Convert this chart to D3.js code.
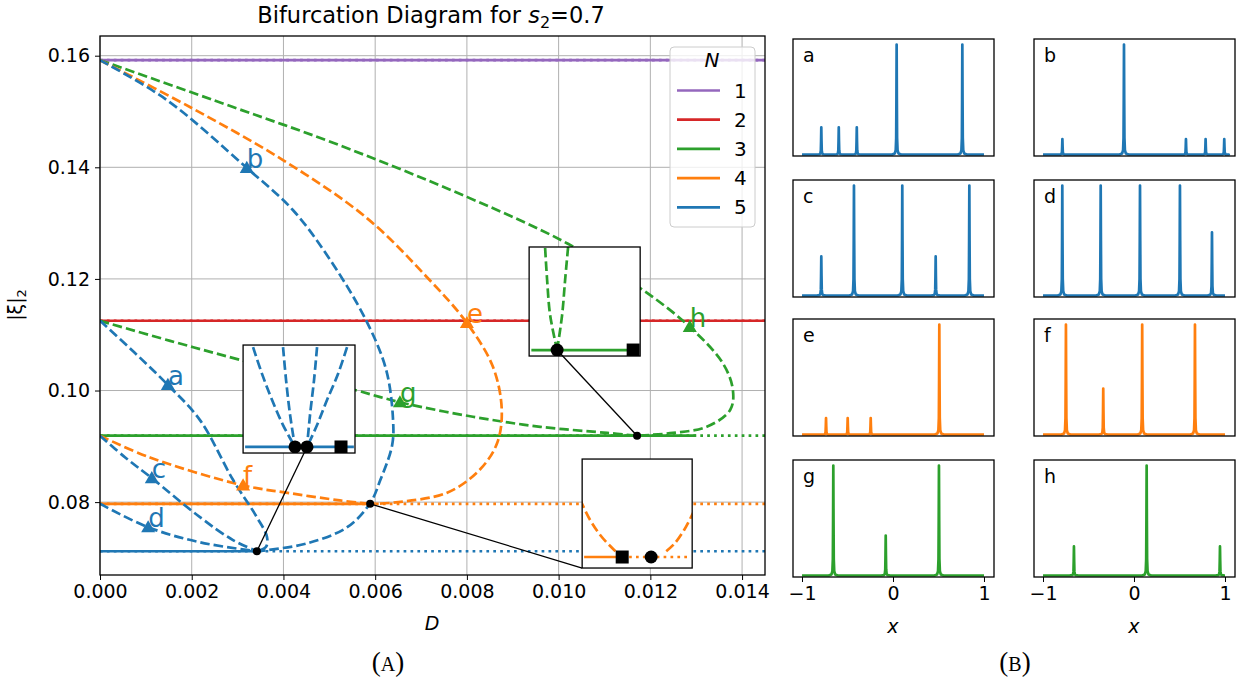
<!DOCTYPE html>
<html>
<head>
<meta charset="utf-8">
<script src="https://cdn.jsdelivr.net/npm/d3@7"></script>
<style>
  body { margin: 0; background: #fff; }
</style>
</head>
<body>
<div id="chart"></div>
<script>
// ---- data ----
var levelN = [1, 2, 3, 4, 5];
var levelVal = [0.1592, 0.1125, 0.0919, 0.0797, 0.0712];
var stableEnd = [0.0145, 0.0145, 0.0130, 0.00589, 0.00342]; // solid up to here, dotted after
var xTicks = [0, 0.002, 0.004, 0.006, 0.008, 0.010, 0.012, 0.014];
var yTicks = [0.08, 0.10, 0.12, 0.14, 0.16];

// dashed branches [D, |xi|]
var branchG1 = [[0, 0.1592], [0.0029, 0.1508], [0.00508, 0.1444], [0.0080, 0.1347], [0.01018, 0.1264], [0.01184, 0.1180], [0.01286, 0.1114], [0.01358, 0.1049], [0.0138, 0.1001], [0.01374, 0.0965], [0.01323, 0.0935], [0.01249, 0.0924], [0.01171, 0.0919]];
var branchG2 = [[0, 0.1125], [0.00153, 0.1089], [0.00305, 0.1055], [0.00556, 0.1001], [0.00654, 0.0979], [0.00813, 0.0953], [0.0096, 0.0935], [0.01106, 0.0924], [0.01171, 0.0919]];
var branchO1 = [[0, 0.1592], [0.00196, 0.1508], [0.00399, 0.1413], [0.00582, 0.1309], [0.00713, 0.1203], [0.0080, 0.1121], [0.00857, 0.1042], [0.00876, 0.0965], [0.00866, 0.0906], [0.00828, 0.0858], [0.00757, 0.0817], [0.00639, 0.0799], [0.00589, 0.0797]];
var branchO2 = [[0, 0.0919], [0.00109, 0.0880], [0.00312, 0.0830], [0.00414, 0.0816], [0.00523, 0.0803], [0.00589, 0.0797]];
var branchB1 = [[0, 0.1592], [0.00145, 0.1521], [0.0032, 0.1399], [0.00421, 0.1323], [0.00502, 0.1234], [0.0058, 0.1126], [0.00624, 0.1037], [0.00639, 0.0947], [0.00637, 0.0902], [0.00611, 0.0839], [0.00589, 0.0798], [0.00539, 0.0755], [0.00451, 0.0726], [0.00364, 0.0714], [0.00342, 0.0712]];
var branchB2 = [[0, 0.1125], [0.00074, 0.1069], [0.00148, 0.1010], [0.00218, 0.0947], [0.0029, 0.0840], [0.00342, 0.0773], [0.00364, 0.0738], [0.00362, 0.0720], [0.00342, 0.0712]];
var branchB3 = [[0, 0.0919], [0.00055, 0.0880], [0.00113, 0.0843], [0.00218, 0.0773], [0.0029, 0.0732], [0.00342, 0.0712]];
var branchB4 = [[0, 0.0797], [0.00105, 0.0755], [0.00218, 0.0728], [0.00342, 0.0712]];
var branchList = [
  { n: 3, pts: branchG1 }, { n: 3, pts: branchG2 },
  { n: 4, pts: branchO1 }, { n: 4, pts: branchO2 },
  { n: 5, pts: branchB1 }, { n: 5, pts: branchB2 }, { n: 5, pts: branchB3 }, { n: 5, pts: branchB4 }
];

// labelled solutions
var markLabel = ["a", "b", "c", "d", "e", "f", "g", "h"];
var markN = [5, 5, 5, 5, 4, 4, 3, 3];
var markD = [0.00148, 0.0032, 0.00113, 0.00105, 0.0080, 0.00312, 0.00654, 0.01286];
var markVal = [0.1010, 0.1399, 0.0843, 0.0755, 0.1121, 0.0830, 0.0979, 0.1114];

// bifurcation points
var bifD = [0.00342, 0.00589, 0.01171];
var bifVal = [0.0712, 0.0797, 0.0919];

// insets (box in main-axes data [D0, D1, top, bottom], contents in unit coordinates)
var insets = [
  { n: 5, box: [0.00312, 0.00556, 0.10815, 0.0888],
    curves: [
      [[0.089, 0.981], [0.170, 0.731], [0.259, 0.491], [0.357, 0.259], [0.464, 0.056]],
      [[0.357, 0.981], [0.384, 0.676], [0.420, 0.352], [0.464, 0.056]],
      [[0.661, 0.981], [0.634, 0.676], [0.598, 0.352], [0.571, 0.056]],
      [[0.929, 0.981], [0.848, 0.731], [0.750, 0.491], [0.661, 0.259], [0.571, 0.056]]
    ],
    solid: [0.018, 0.99], dotted: null, base: 0.056,
    dots: [0.464, 0.571], squares: [0.875], link: [0.571, 0.056], bif: 0 },
  { n: 3, box: [0.009357, 0.011778, 0.12572, 0.10618],
    curves: [
      [[0.144, 0.991], [0.162, 0.697], [0.189, 0.376], [0.252, 0.055]],
      [[0.351, 1.0], [0.324, 0.697], [0.297, 0.376], [0.252, 0.055]]
    ],
    solid: [0.02, 0.96], dotted: null, base: 0.055,
    dots: [0.252], squares: [0.937], link: [0.252, 0.055], bif: 2 },
  { n: 4, box: [0.010513, 0.012912, 0.08772, 0.06819],
    curves: [
      [[-0.02, 0.63], [0.073, 0.44], [0.164, 0.303], [0.273, 0.183], [0.364, 0.101]],
      [[1.02, 0.53], [0.927, 0.349], [0.836, 0.220], [0.745, 0.138]]
    ],
    solid: [0.018, 0.364], dotted: [0.364, 0.98], base: 0.101,
    dots: [0.627], squares: [0.364], link: [0, 0], bif: 1 }
];

// profiles for panels a..h : peak positions and relative heights
var panelLabel = ["a", "b", "c", "d", "e", "f", "g", "h"];
var panelN = [5, 5, 5, 5, 4, 4, 3, 3];
var peakX = [
  [-0.788, -0.596, -0.398, 0.040, 0.762],
  [-0.787, -0.110, 0.571, 0.787, 0.992],
  [-0.788, -0.429, 0.102, 0.469, 0.839],
  [-0.788, -0.366, 0.066, 0.505, 0.857],
  [-0.736, -0.498, -0.245, 0.509],
  [-0.748, -0.338, 0.090, 0.670],
  [-0.656, -0.080, 0.505],
  [-0.660, 0.139, 0.945]
];
var peakH = [
  [0.247, 0.247, 0.247, 1, 1],
  [0.14, 1, 0.14, 0.14, 0.14],
  [0.355, 1, 1, 0.355, 1],
  [1, 1, 1, 1, 0.575],
  [0.15, 0.15, 0.15, 1],
  [1, 0.418, 1, 1],
  [1, 0.363, 1],
  [0.264, 1, 0.264]
];
// single peak outline, [dx, fraction of height]
var peakShape = [[-0.05, 0], [-0.02, 0.01], [-0.01, 0.04], [-0.005, 0.15], [-0.0025, 0.5], [0, 1], [0.0025, 0.5], [0.005, 0.15], [0.01, 0.04], [0.02, 0.01], [0.05, 0]];
var profileTicks = [-1, 0, 1];

var color = d3.scaleOrdinal().domain([1, 2, 3, 4, 5])
  .range(["#9467bd", "#d62728", "#2ca02c", "#ff7f0e", "#1f77b4"]);

var SANS = "DejaVu Sans, sans-serif";
var SERIF = "Liberation Serif, DejaVu Serif, serif";

// ---- main axes ----
var W = 1239, H = 681;
var margin = { left: 100, top: 36, right: 474, bottom: 106 };
var width = W - margin.left - margin.right,
  height = H - margin.top - margin.bottom;

var svg = d3.select("#chart").append("svg")
  .attr("width", W).attr("height", H)
  .style("font-family", SANS);

var x = d3.scaleLinear().domain([0, 0.0145]).range([margin.left, margin.left + width]);
var y = d3.scaleLinear().domain([0.06694, 0.16353]).range([margin.top + height, margin.top]);

var defs = svg.append("defs");
defs.append("clipPath").attr("id", "mainclip").append("rect")
  .attr("x", margin.left).attr("y", margin.top).attr("width", width).attr("height", height);

// grid
var grid = svg.append("g");
grid.selectAll("line.gx").data(xTicks).enter().append("line")
  .attr("x1", d => x(d)).attr("x2", d => x(d))
  .attr("y1", margin.top).attr("y2", margin.top + height)
  .attr("stroke", "#b0b0b0").attr("stroke-width", 1);
grid.selectAll("line.gy").data(yTicks).enter().append("line")
  .attr("y1", d => y(d)).attr("y2", d => y(d))
  .attr("x1", margin.left).attr("x2", margin.left + width)
  .attr("stroke", "#b0b0b0").attr("stroke-width", 1);

var plot = svg.append("g").attr("clip-path", "url(#mainclip)");

// horizontal solution levels: dotted over the whole range, solid where stable
plot.selectAll("line.dot").data(levelN).enter().append("line")
  .attr("x1", x(0)).attr("x2", x(0.0145))
  .attr("y1", (d, i) => y(levelVal[i])).attr("y2", (d, i) => y(levelVal[i]))
  .attr("stroke", d => color(d)).attr("stroke-width", 2.7)
  .attr("stroke-dasharray", "2.7,4.2");
plot.selectAll("line.solid").data(levelN).enter().append("line")
  .attr("x1", x(0)).attr("x2", (d, i) => x(stableEnd[i]))
  .attr("y1", (d, i) => y(levelVal[i])).attr("y2", (d, i) => y(levelVal[i]))
  .attr("stroke", d => color(d)).attr("stroke-width", 2.7);

// dashed branches
var branchLine = d3.line().x(d => x(d[0])).y(d => y(d[1])).curve(d3.curveCatmullRom.alpha(0.5));
plot.selectAll("path.branch").data(branchList).enter().append("path")
  .attr("d", d => branchLine(d.pts))
  .attr("fill", "none").attr("stroke", d => color(d.n))
  .attr("stroke-width", 2.7).attr("stroke-dasharray", "9.5,4");

// labelled solutions
plot.selectAll("path.mark").data(markLabel).enter().append("path")
  .attr("d", d3.symbol().type(d3.symbolTriangle).size(85))
  .attr("transform", (d, i) => "translate(" + x(markD[i]) + "," + (y(markVal[i]) + 1) + ")")
  .attr("fill", (d, i) => color(markN[i]));
svg.selectAll("text.mark").data(markLabel).enter().append("text")
  .attr("x", (d, i) => x(markD[i]))
  .attr("y", (d, i) => y(markVal[i]))
  .attr("font-size", 26)
  .attr("fill", (d, i) => color(markN[i]))
  .text(d => d);

// bifurcation points
svg.selectAll("circle.bif").data(bifD).enter().append("circle")
  .attr("cx", d => x(d)).attr("cy", (d, i) => y(bifVal[i])).attr("r", 4)
  .attr("fill", "#000");

// insets
insets.forEach(function (ins, k) {
  var x0 = x(ins.box[0]), x1 = x(ins.box[1]), y0 = y(ins.box[2]), y1 = y(ins.box[3]);
  var ix = d3.scaleLinear().domain([0, 1]).range([x0, x1]);
  var iy = d3.scaleLinear().domain([0, 1]).range([y1, y0]);
  var c = color(ins.n);
  defs.append("clipPath").attr("id", "inclip" + k).append("rect")
    .attr("x", x0).attr("y", y0).attr("width", x1 - x0).attr("height", y1 - y0);
  var g = svg.append("g");
  g.append("rect").attr("x", x0).attr("y", y0).attr("width", x1 - x0).attr("height", y1 - y0)
    .attr("fill", "#fff");
  var gc = g.append("g").attr("clip-path", "url(#inclip" + k + ")");
  var il = d3.line().x(d => ix(d[0])).y(d => iy(d[1])).curve(d3.curveCatmullRom.alpha(0.5));
  gc.selectAll("path").data(ins.curves).enter().append("path")
    .attr("d", d => il(d)).attr("fill", "none").attr("stroke", c)
    .attr("stroke-width", 2.7).attr("stroke-dasharray", "9.5,4");
  gc.append("line").attr("x1", ix(ins.solid[0])).attr("x2", ix(ins.solid[1]))
    .attr("y1", iy(ins.base)).attr("y2", iy(ins.base))
    .attr("stroke", c).attr("stroke-width", 2.7);
  if (ins.dotted) {
    gc.append("line").attr("x1", ix(ins.dotted[0])).attr("x2", ix(ins.dotted[1]))
      .attr("y1", iy(ins.base)).attr("y2", iy(ins.base))
      .attr("stroke", c).attr("stroke-width", 2.7).attr("stroke-dasharray", "2.7,4.2");
  }
  gc.selectAll("circle").data(ins.dots).enter().append("circle")
    .attr("cx", d => ix(d)).attr("cy", iy(ins.base)).attr("r", 6.5).attr("fill", "#000");
  gc.selectAll("rect.sq").data(ins.squares).enter().append("rect")
    .attr("x", d => ix(d) - 6.5).attr("y", iy(ins.base) - 6.5)
    .attr("width", 13).attr("height", 13).attr("fill", "#000");
  g.append("rect").attr("x", x0).attr("y", y0).attr("width", x1 - x0).attr("height", y1 - y0)
    .attr("fill", "none").attr("stroke", "#000").attr("stroke-width", 1.3);
  // connector from the bifurcation point to the inset
  svg.append("line")
    .attr("x1", x(bifD[ins.bif])).attr("y1", y(bifVal[ins.bif]))
    .attr("x2", ix(ins.link[0])).attr("y2", iy(ins.link[1]))
    .attr("stroke", "#000").attr("stroke-width", 1.3);
});

// axes
function styleTicks(g) {
  g.select(".domain").remove();
  g.selectAll("text").attr("font-size", 19).style("font-family", SANS).attr("fill", "#000");
}
svg.append("g").attr("transform", "translate(0," + (margin.top + height) + ")")
  .call(d3.axisBottom(x).tickValues(xTicks).tickFormat(d3.format(".3f")).tickSizeOuter(0).tickSize(5).tickPadding(5))
  .call(styleTicks);
svg.append("g").attr("transform", "translate(" + margin.left + ",0)")
  .call(d3.axisLeft(y).tickValues(yTicks).tickFormat(d3.format(".2f")).tickSizeOuter(0).tickSize(5).tickPadding(5))
  .call(styleTicks);
svg.append("rect").attr("x", margin.left).attr("y", margin.top)
  .attr("width", width).attr("height", height)
  .attr("fill", "none").attr("stroke", "#000").attr("stroke-width", 1.3);

// legend
var lg = svg.append("g");
lg.append("rect").attr("x", 670).attr("y", 47).attr("width", 85).attr("height", 180)
  .attr("rx", 4).attr("fill", "#fff").attr("fill-opacity", 0.8)
  .attr("stroke", "#cccccc").attr("stroke-width", 1);
lg.append("text").attr("x", 712).attr("y", 67).attr("text-anchor", "middle")
  .attr("font-size", 20).attr("font-style", "italic").text("N");
lg.selectAll("line").data(levelN).enter().append("line")
  .attr("x1", 677).attr("x2", 720)
  .attr("y1", (d, i) => 90.5 + i * 29.2).attr("y2", (d, i) => 90.5 + i * 29.2)
  .attr("stroke", d => color(d)).attr("stroke-width", 2.7);
lg.selectAll("text.l").data(levelN).enter().append("text")
  .attr("x", 734).attr("y", (d, i) => 97.5 + i * 29.2)
  .attr("font-size", 20).text(d => d);

// title and labels
var title = svg.append("text").attr("x", 431).attr("y", 23).attr("text-anchor", "middle")
  .attr("font-size", 22.5);
title.append("tspan").text("Bifurcation Diagram for ");
title.append("tspan").attr("font-style", "italic").text("s");
title.append("tspan").attr("font-size", 16).attr("dy", 5).text("2");
title.append("tspan").attr("dy", -5).text("=0.7");

var yl = svg.append("text").attr("transform", "translate(22,305) rotate(-90)")
  .attr("text-anchor", "middle").attr("font-size", 19);
yl.append("tspan").text("|ξ|");
yl.append("tspan").attr("font-size", 13).attr("dy", 4).text("2");

svg.append("text").attr("x", 432).attr("y", 630).attr("text-anchor", "middle")
  .attr("font-size", 19).attr("font-style", "italic").text("D");

// ---- right panels ----
var pw = 201, ph = 117;
var panelLeft = [793, 1034], panelTop = [39, 180, 319, 460];
panelLabel.forEach(function (lab, i) {
  var left = panelLeft[i % 2], top = panelTop[Math.floor(i / 2)];
  var px = d3.scaleLinear().domain([-1.099, 1.110]).range([left, left + pw]);
  var py = d3.scaleLinear().domain([0, 1]).range([top + ph - 1.5, top + 5.5]);
  var pts = [[-1, 0]];
  peakX[i].forEach(function (p, j) {
    peakShape.forEach(function (s) { pts.push([p + s[0], s[1] * peakH[i][j]]); });
  });
  pts.push([1, 0]);
  var g = svg.append("g");
  g.append("path")
    .attr("d", d3.line().x(d => px(d[0])).y(d => py(d[1]))(pts))
    .attr("fill", "none").attr("stroke", color(panelN[i]))
    .attr("stroke-width", 2.7).attr("stroke-linejoin", "round");
  g.append("rect").attr("x", left).attr("y", top).attr("width", pw).attr("height", ph)
    .attr("fill", "none").attr("stroke", "#000").attr("stroke-width", 1.3);
  g.append("text").attr("x", left + 10).attr("y", top + 23).attr("font-size", 19).text(lab);
  if (i >= 6) {
    g.append("g").attr("transform", "translate(0," + (top + ph) + ")")
      .call(d3.axisBottom(px).tickValues(profileTicks).tickFormat(d => d < 0 ? "\u2212" + Math.abs(d) : d).tickSize(5).tickPadding(5))
      .call(styleTicks);
    g.append("text").attr("x", px(0)).attr("y", 633).attr("text-anchor", "middle")
      .attr("font-size", 19).attr("font-style", "italic").text("x");
  }
});

// sub-figure captions
var capA = svg.append("text").attr("x", 388).attr("y", 671).attr("text-anchor", "middle")
  .style("font-family", SERIF).attr("font-size", 27);
capA.append("tspan").text("(");
capA.append("tspan").attr("font-size", 20).text("A");
capA.append("tspan").text(")");
var capB = svg.append("text").attr("x", 1015).attr("y", 671).attr("text-anchor", "middle")
  .style("font-family", SERIF).attr("font-size", 27);
capB.append("tspan").text("(");
capB.append("tspan").attr("font-size", 20).text("B");
capB.append("tspan").text(")");
</script>
</body>
</html>
